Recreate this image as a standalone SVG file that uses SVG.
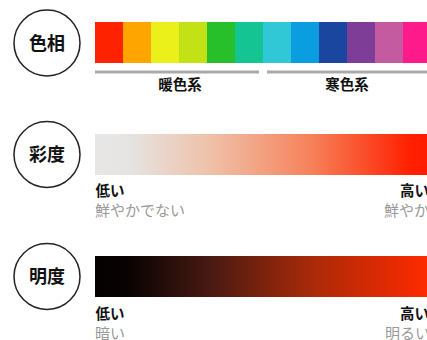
<svg xmlns="http://www.w3.org/2000/svg" width="427" height="340" viewBox="0 0 427 340">
<style>
.circ{fill:#fff;stroke:#222;stroke-width:1.5}
.ct{font-family:"Noto Sans CJK JP","Noto Sans CJK SC",sans-serif;font-size:18px;font-weight:bold;fill:#111;text-anchor:middle}
.lb{font-family:"Noto Sans CJK JP","Noto Sans CJK SC",sans-serif;font-size:14.5px;font-weight:bold;fill:#111}
.sub{font-family:"Noto Sans CJK JP","Noto Sans CJK SC",sans-serif;font-size:15px;fill:#999}
.rule{stroke:#aaa;stroke-width:3}
</style>
<defs>
<linearGradient id="sat" x1="95" y1="0" x2="427" y2="0" gradientUnits="userSpaceOnUse">
<stop offset="0" stop-color="#e6e6e6"/>
<stop offset="0.1" stop-color="#e6e4e2"/>
<stop offset="0.35" stop-color="#efc0a8"/>
<stop offset="0.65" stop-color="#f6825a"/>
<stop offset="0.95" stop-color="#ff2000"/>
<stop offset="1" stop-color="#ff1c00"/>
</linearGradient>
<linearGradient id="bri" x1="95" y1="0" x2="427" y2="0" gradientUnits="userSpaceOnUse">
<stop offset="0" stop-color="#050101"/>
<stop offset="0.1" stop-color="#080302"/>
<stop offset="0.35" stop-color="#4a1a12"/>
<stop offset="0.65" stop-color="#a82a08"/>
<stop offset="1" stop-color="#ff2a00"/>
</linearGradient>
</defs>
<g id="hue">
<circle class="circ" cx="47" cy="43" r="33"/>
<text class="ct" x="47" y="49.5">色相</text>
<g id="hue-bar">
<rect x="95" y="22" width="28.5" height="41" fill="#ff2200"/>
<rect x="123" y="22" width="28.5" height="41" fill="#ffa500"/>
<rect x="151" y="22" width="28.5" height="41" fill="#ecf01a"/>
<rect x="179" y="22" width="28.5" height="41" fill="#c2e216"/>
<rect x="207" y="22" width="28.5" height="41" fill="#28c02a"/>
<rect x="235" y="22" width="28.5" height="41" fill="#14c492"/>
<rect x="263" y="22" width="28.5" height="41" fill="#30c8d6"/>
<rect x="291" y="22" width="28.5" height="41" fill="#0a9de0"/>
<rect x="319" y="22" width="28.5" height="41" fill="#1a46a0"/>
<rect x="347" y="22" width="28.5" height="41" fill="#7e3e98"/>
<rect x="375" y="22" width="28.5" height="41" fill="#c45aa0"/>
<rect x="403" y="22" width="28.5" height="41" fill="#ff1a8c"/>
</g>
<line class="rule" x1="95" y1="72" x2="259" y2="72"/>
<line class="rule" x1="267" y1="72" x2="427" y2="72"/>
<text class="lb" x="180" y="90" text-anchor="middle">暖色系</text>
<text class="lb" x="347" y="90" text-anchor="middle">寒色系</text>
</g>
<g id="saturation">
<circle class="circ" cx="47" cy="154.5" r="33"/>
<text class="ct" x="47" y="161">彩度</text>
<rect x="95" y="134" width="332" height="41" fill="url(#sat)"/>
<text class="lb" x="95.5" y="196">低い</text>
<text class="sub" x="95" y="216">鮮やかでない</text>
<text class="lb" x="400" y="196">高い</text>
<text class="sub" x="384" y="216">鮮やか</text>
</g>
<g id="brightness">
<circle class="circ" cx="47" cy="276.5" r="33"/>
<text class="ct" x="47" y="283">明度</text>
<rect x="95" y="256" width="332" height="41" fill="url(#bri)"/>
<text class="lb" x="95.5" y="319">低い</text>
<text class="sub" x="95" y="338.5">暗い</text>
<text class="lb" x="400" y="319">高い</text>
<text class="sub" x="385" y="338.5">明るい</text>
</g>
</svg>
